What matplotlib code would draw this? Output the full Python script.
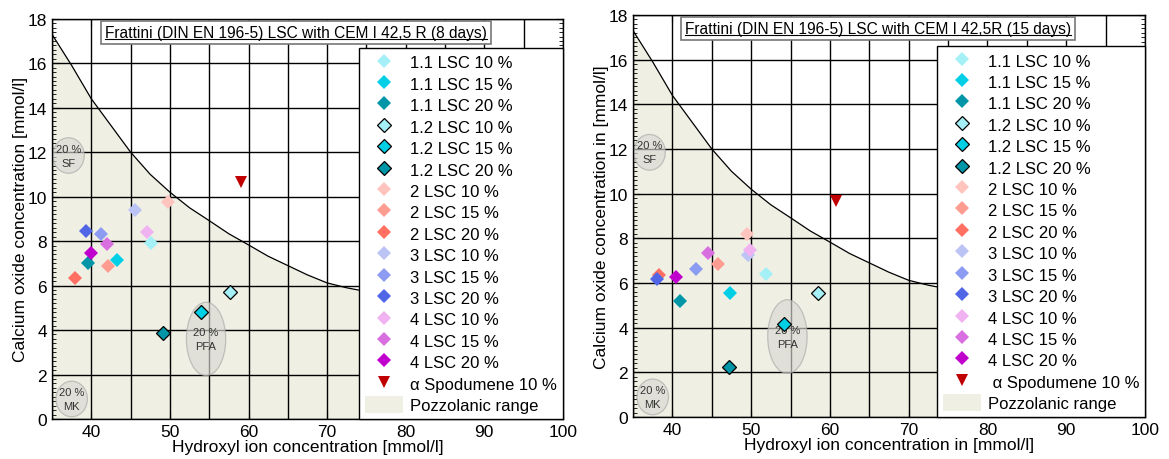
import matplotlib
matplotlib.use("Agg")
import matplotlib.pyplot as plt
from matplotlib.patches import Ellipse
from matplotlib.lines import Line2D
from matplotlib.ticker import MultipleLocator

plt.rcParams['font.family'] = ['Liberation Sans', 'DejaVu Sans']

labels = ["1.1 LSC 10 %", "1.1 LSC 15 %", "1.1 LSC 20 %",
          "1.2 LSC 10 %", "1.2 LSC 15 %", "1.2 LSC 20 %",
          "2 LSC 10 %", "2 LSC 15 %", "2 LSC 20 %",
          "3 LSC 10 %", "3 LSC 15 %", "3 LSC 20 %",
          "4 LSC 10 %", "4 LSC 15 %", "4 LSC 20 %"]
colors = ["#a4f0f6", "#00cfe6", "#0096a8",
          "#a4f0f6", "#00cfe6", "#0096a8",
          "#ffc4bd", "#ff9c92", "#ff6f62",
          "#bcc4f6", "#8c9cf2", "#5066e6",
          "#f0b2f0", "#d96ee0", "#c000cc"]
edged = [False, False, False, True, True, True] + [False] * 9

# 8 days
oh_8 = [47.6, 43.3, 39.6, 57.6, 54.0, 49.1, 49.8, 42.1, 37.9, 45.5, 41.2, 39.3, 47.1, 42.0, 39.9]
cao_8 = [7.92, 7.17, 7.0, 5.69, 4.79, 3.86, 9.76, 6.87, 6.36, 9.41, 8.33, 8.45, 8.43, 7.85, 7.47]
spod_8 = (59.0, 10.65)

# 15 days
oh_15 = [51.9, 47.3, 41.0, 58.5, 54.2, 47.2, 49.5, 45.8, 38.3, 49.6, 43.0, 38.0, 49.8, 44.5, 40.4]
cao_15 = [6.39, 5.57, 5.21, 5.54, 4.15, 2.22, 8.19, 6.84, 6.36, 7.25, 6.63, 6.17, 7.46, 7.34, 6.29]
spod_15 = (60.8, 9.66)

# pozzolanic boundary
curve_x = [35, 37.5, 40, 42.5, 45, 47.5, 50, 52.5, 55, 57.5, 60, 62.5, 65, 67.5, 70, 72.5, 75,
           80, 85, 90, 95, 100]
curve_y = [17.3, 15.9, 14.4, 13.2, 12.0, 11.0, 10.2, 9.5, 8.92, 8.33, 7.83, 7.32, 6.9, 6.48,
           6.12, 5.9, 5.73, 5.3, 4.95, 4.6, 4.3, 4.05]

fill_col = "#efefe4"


def panel(ax, oh, cao, spod, title, xlabel, ylabel, spod_label):
    ax.fill_between(curve_x, 0, curve_y, color=fill_col, lw=0, zorder=0.5, label="Pozzolanic range")
    ax.plot(curve_x, curve_y, color="black", lw=0.9, zorder=1.6)

    for cx, cy, w, h, txt in [(37.1, 11.85, 4.0, 1.6, "20 %\nSF"), (37.5, 0.9, 4.0, 1.6, "20 %\nMK"),
                              (54.6, 3.6, 5.0, 3.3, "20 %\nPFA")]:
        ax.add_patch(Ellipse((cx, cy), w, h, facecolor="#d8d8d2", alpha=0.65,
                             edgecolor="#a8a8a8", lw=0.9, zorder=2))
        ax.text(cx, cy, txt, ha="center", va="center", fontsize=8, color="#333333",
                zorder=2.1, linespacing=1.5)

    handles = []
    for x, y, c, e, lab in zip(oh, cao, colors, edged, labels):
        h, = ax.plot([x], [y], "D", ms=7, color=c, mec="black" if e else c,
                     mew=0.9 if e else 0, label=lab, zorder=3)
        handles.append(h)
    h, = ax.plot([spod[0]], [spod[1]], "v", ms=8, color="#c00000", mew=0, label=spod_label, zorder=3)
    handles.append(h)
    handles.append(ax.collections[0])

    ax.set_xlim(35, 100)
    ax.set_ylim(0, 18)
    ax.set_xticks(range(40, 101, 10))
    ax.xaxis.set_minor_locator(MultipleLocator(5))
    ax.set_yticks(range(0, 19, 2))
    ax.yaxis.set_minor_locator(MultipleLocator(0.2))
    ax.grid(which="both", axis="x", color="black", lw=1.0)
    ax.grid(which="major", axis="y", color="black", lw=1.0)
    ax.tick_params(which="both", direction="in", right=True, top=True, labelsize=12.5)
    ax.tick_params(which="major", length=5)
    ax.tick_params(which="minor", length=3)
    ax.tick_params(axis="x", which="minor", length=0)
    for s in ax.spines.values():
        s.set_linewidth(1.0)
    ax.set_xlabel(xlabel, fontsize=12.5, labelpad=0)
    ax.set_ylabel(ylabel, fontsize=12.5, labelpad=0)

    leg = ax.legend(handles=handles, loc="lower right", bbox_to_anchor=(1, 0), borderaxespad=0,
                    fontsize=12, frameon=True, fancybox=False, framealpha=1, edgecolor="black",
                    handlelength=2.3, handleheight=1.15, labelspacing=0.27, borderpad=0.35,
                    handletextpad=0.4)
    leg.get_frame().set_linewidth(1.0)
    leg.set_zorder(5)

    t = ax.text(0.478, 0.966, title, transform=ax.transAxes, ha="center", va="center",
                fontsize=11.2, zorder=6,
                bbox=dict(boxstyle="square,pad=0.25", facecolor="white", edgecolor="#777777", lw=1.2))
    return t


fig = plt.figure(figsize=(11.69, 4.6), dpi=100)
ax1 = fig.add_axes([0.0445, 0.087, 0.437, 0.87])
ax2 = fig.add_axes([0.5415, 0.0913, 0.438, 0.874])

t1 = panel(ax1, oh_8, cao_8, spod_8, "Frattini (DIN EN 196-5) LSC with CEM I 42,5 R (8 days)",
           "Hydroxyl ion concentration [mmol/l]", "Calcium oxide concentration [mmol/l]",
           "α Spodumene 10 %")
t2 = panel(ax2, oh_15, cao_15, spod_15, "Frattini (DIN EN 196-5) LSC with CEM I 42,5R (15 days)",
           "Hydroxyl ion concentration in [mmol/l]", "Calcium oxide concentration in [mmol/l]",
           " α Spodumene 10 %")

# underline the titles
fig.canvas.draw()
inv = fig.transFigure.inverted()
for t in (t1, t2):
    bb = t.get_window_extent()
    (x0, y0), (x1, _) = inv.transform([(bb.x0, bb.y0 + 1), (bb.x1, bb.y1)])
    fig.add_artist(Line2D([x0, x1], [y0, y0], color="black", lw=0.8, zorder=7))

fig.savefig("out.png", dpi=100)
